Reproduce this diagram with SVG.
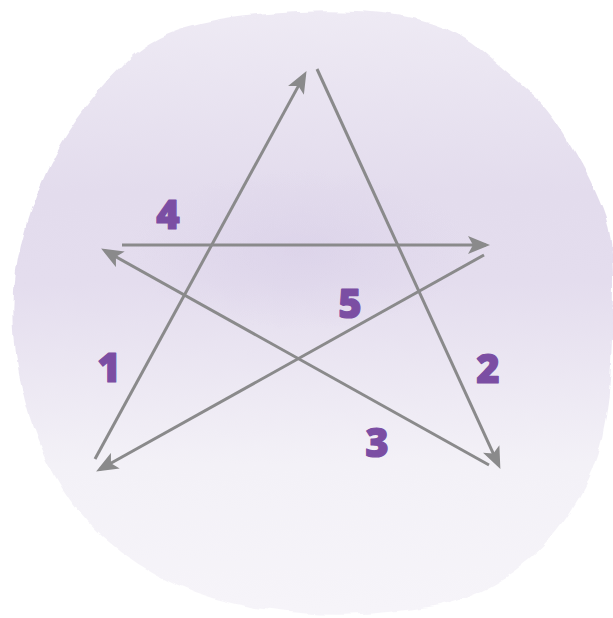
<svg xmlns="http://www.w3.org/2000/svg" width="613" height="618" viewBox="0 0 613 618">
<style>
.arrow{fill:none;stroke:#8a8a8b;stroke-width:3;marker-end:url(#ah)}
.num{font-family:"Open Sans","Noto Sans",sans-serif;font-weight:800;font-size:40px;fill:#7b4ea3;stroke:#7b4ea3;stroke-width:1.2;stroke-linejoin:round;text-anchor:middle}
</style>
<defs>
<linearGradient id="bg" x1="0" y1="0" x2="0" y2="1">
<stop offset="0" stop-color="#eeeaf4"/>
<stop offset="0.3" stop-color="#e3dced"/>
<stop offset="0.45" stop-color="#e4ddee"/>
<stop offset="0.75" stop-color="#f3f1f7"/>
<stop offset="1" stop-color="#f6f4f9"/>
</linearGradient>
<radialGradient id="glow" cx="0.5" cy="0.5" r="0.5">
<stop offset="0" stop-color="#d6cce6" stop-opacity="0.5"/>
<stop offset="1" stop-color="#d6cce6" stop-opacity="0"/>
</radialGradient>
<filter id="rough" x="-5%" y="-5%" width="110%" height="110%">
<feTurbulence type="fractalNoise" baseFrequency="0.04" numOctaves="3" seed="4"/>
<feDisplacementMap in="SourceGraphic" scale="8" xChannelSelector="R" yChannelSelector="G"/>
</filter>
<marker id="ah" viewBox="0 0 22 18" markerWidth="22" markerHeight="18" refX="18" refY="9" orient="auto" markerUnits="userSpaceOnUse">
<path d="M0,0 L22,9 L0,18 L5,9 Z" fill="#8a8a8b"/>
</marker>
</defs>
<g id="background" filter="url(#rough)">
<path d="M123.5,64.5 Q149,39 184,28.5 Q219,18 266,14 Q313,10 356.5,12 Q400,14 430.5,23.5 Q461,33 483,51.5 Q505,70 526,88 Q547,106 562.5,131 Q578,156 589,178 Q600,200 606.5,220 Q613,240 613,285 Q613,330 610.5,375 Q608,420 597.5,454.5 Q587,489 563.5,522 Q540,555 504.5,577.5 Q469,600 430,606.5 Q391,613 352,614.5 Q313,616 264,609 Q215,602 176,584.5 Q137,567 103.5,537.5 Q70,508 47.5,461.5 Q25,415 17.5,364 Q10,313 16,271.5 Q22,230 38.5,190 Q55,150 76.5,120 Q98,90 123.5,64.5 Z" fill="url(#bg)"/>
<ellipse cx="300" cy="250" rx="170" ry="80" fill="url(#glow)"/>
</g>
<g id="connectors">
<line id="a1" class="arrow" x1="95" y1="459" x2="304.6" y2="74.6"/>
<line id="a2" class="arrow" x1="317" y1="69" x2="498.7" y2="465.3"/>
<line id="a3" class="arrow" x1="489" y1="465" x2="104.6" y2="250.5"/>
<line id="a4" class="arrow" x1="122" y1="245" x2="486" y2="245"/>
<line id="a5" class="arrow" x1="484" y1="255" x2="99.6" y2="469.5"/>
</g>
<g id="label1"><text class="num" x="109" y="382">1</text></g>
<g id="label2"><text class="num" x="488" y="383">2</text></g>
<g id="label3"><text class="num" x="377" y="457">3</text></g>
<g id="label4"><text class="num" x="168" y="229">4</text></g>
<g id="label5"><text class="num" x="350" y="318">5</text></g>
</svg>
